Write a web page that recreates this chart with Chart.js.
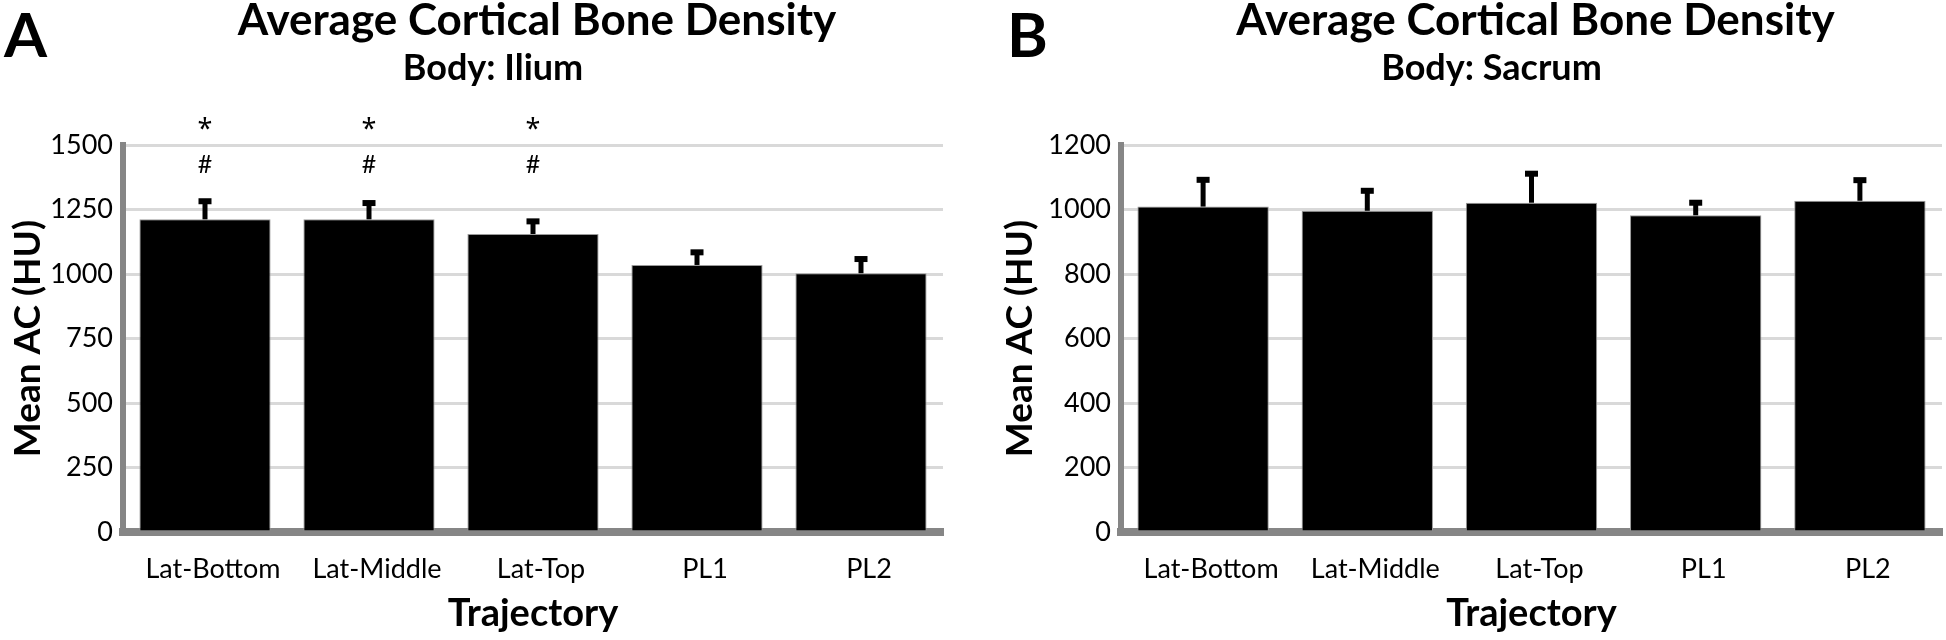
<!DOCTYPE html>
<html>
<head>
<meta charset="utf-8">
<script src="https://cdn.jsdelivr.net/npm/chart.js@4"></script>
<style>
  html, body { margin: 0; padding: 0; background: #fff; }
  .wrap { position: relative; width: 1946px; height: 640px; }
  #panelA { position: absolute; left: 0; top: 0; }
  #panelB { position: absolute; left: 998px; top: 0; }
</style>
</head>
<body>
<div class="wrap">
  <canvas id="panelA" width="998" height="640"></canvas>
  <canvas id="panelB" width="948" height="640"></canvas>
</div>
<script>
const trajectories = ["Lat-Bottom", "Lat-Middle", "Lat-Top", "PL1", "PL2"];

// panel A - ilium
const iliumMean = [1212, 1212, 1155, 1035, 1003];
const iliumErr = [70, 63, 49, 49, 55];
const iliumStars = ["*", "*", "*", "", ""];
const iliumHashes = ["#", "#", "#", "", ""];
const iliumTicks = [0, 250, 500, 750, 1000, 1250, 1500];

// panel B - sacrum
const sacrumMean = [1009, 996, 1021, 982, 1027];
const sacrumErr = [83, 62, 90, 39, 64];
const sacrumStars = ["", "", "", "", ""];
const sacrumHashes = ["", "", "", "", ""];
const sacrumTicks = [0, 200, 400, 600, 800, 1000, 1200];

Chart.defaults.font.family = "Lato";
Chart.defaults.color = "#000";

// upper error bars + significance marks
const errorBars = {
  id: "errorBars",
  afterDatasetsDraw(chart, args, opts) {
    const ctx = chart.ctx;
    const meta = chart.getDatasetMeta(0);
    const yScale = chart.scales.y;
    ctx.save();
    ctx.fillStyle = "#000";
    ctx.strokeStyle = "#000";
    meta.data.forEach((bar, i) => {
      const yTop = yScale.getPixelForValue(opts.means[i] + opts.errors[i]);
      ctx.lineWidth = 5;
      ctx.beginPath();
      ctx.moveTo(bar.x, bar.y);
      ctx.lineTo(bar.x, yTop);
      ctx.stroke();
      ctx.fillRect(bar.x - 6.5, yTop - 3, 13, 6);
    });
    ctx.textAlign = "center";
    ctx.textBaseline = "alphabetic";
    const top = chart.chartArea.top;
    meta.data.forEach((bar, i) => {
      ctx.font = "27px 'Noto Sans'";
      if (opts.stars[i]) ctx.fillText(opts.stars[i], bar.x, top - 7);
      ctx.font = "25px Lato";
      if (opts.hashes[i]) ctx.fillText(opts.hashes[i], bar.x, top + 28);
    });
    ctx.restore();
  },
};

// panel letter and titles
const panelText = {
  id: "panelText",
  afterDraw(chart, args, opts) {
    const ctx = chart.ctx;
    const area = chart.chartArea;
    const cx = (area.left + area.right) / 2;
    ctx.save();
    ctx.fillStyle = "#000";
    ctx.textBaseline = "alphabetic";
    ctx.textAlign = "left";
    ctx.font = "bold 62px Lato";
    ctx.fillText(opts.letter, opts.letterX, 57);
    ctx.textAlign = "center";
    ctx.font = "bold 44px Lato";
    ctx.fillText(opts.title, cx + 4, 35);
    ctx.font = "bold 36px Lato";
    ctx.fillText(opts.subtitle, cx - 40, 80);
    ctx.restore();
  },
};

function makePanel(id, means, errors, stars, hashes, ticks, subtitle, letter, letterX, yTitlePad, rightPad) {
  const ctx = document.getElementById(id).getContext("2d");
  return new Chart(ctx, {
    type: "bar",
    data: {
      labels: trajectories,
      datasets: [
        {
          data: means,
          backgroundColor: "#000",
          borderColor: "#9a9a9a",
          borderWidth: 1,
          categoryPercentage: 1,
          barPercentage: 0.8,
        },
      ],
    },
    options: {
      responsive: false,
      animation: false,
      devicePixelRatio: 1,
      layout: { padding: { top: 145, left: 0, right: rightPad, bottom: 0 } },
      plugins: {
        legend: { display: false },
        tooltip: { enabled: false },
        errorBars: { means: means, errors: errors, stars: stars, hashes: hashes },
        panelText: {
          letter: letter,
          letterX: letterX,
          title: "Average Cortical Bone Density",
          subtitle: subtitle,
        },
      },
      scales: {
        x: {
          grid: { display: false, drawTicks: false },
          border: { color: "#868686", width: 8 },
          ticks: { font: { size: 27 }, padding: 21, labelOffset: 8, maxRotation: 0, autoSkip: false },
          title: {
            display: true,
            text: "Trajectory",
            font: { size: 38, weight: "bold" },
            padding: { top: 0, bottom: 3 },
          },
          afterFit: (s) => { s.height = 108; },
        },
        y: {
          min: ticks[0],
          max: ticks[ticks.length - 1],
          ticks: {
            stepSize: ticks[1] - ticks[0],
            font: { size: 27 },
            padding: 10,
            callback: (v) => String(v),
          },
          grid: { color: "#d9d9d9", lineWidth: 3, drawTicks: false },
          border: { color: "#868686", width: 6 },
          title: {
            display: true,
            text: "Mean AC (HU)",
            font: { size: 37, weight: "bold" },
            padding: { top: yTitlePad, bottom: 0 },
          },
          afterFit: (s) => { s.width = 123; },
        },
      },
    },
    plugins: [errorBars, panelText],
  });
}

makePanel("panelA", iliumMean, iliumErr, iliumStars, iliumHashes, iliumTicks, "Body: Ilium", "A", 4, 6, 55);
makePanel("panelB", sacrumMean, sacrumErr, sacrumStars, sacrumHashes, sacrumTicks, "Body: Sacrum", "B", 9, 0, 4);
</script>
</body>
</html>
